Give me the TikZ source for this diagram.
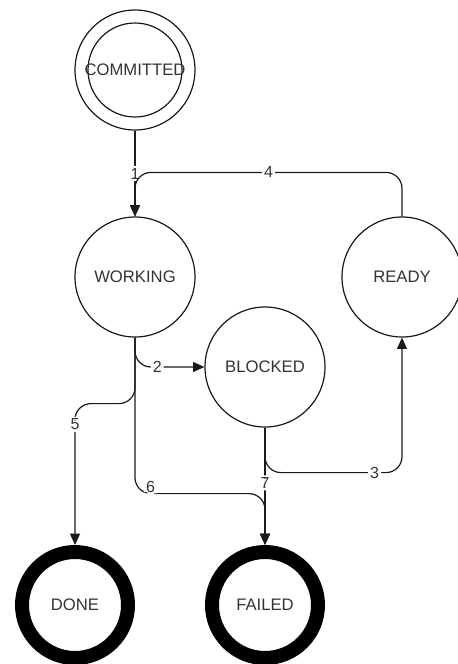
\documentclass[tikz,border=0pt]{standalone}
\usepackage{fontspec}
\setmainfont{Liberation Sans}
\usetikzlibrary{arrows.meta}
\definecolor{linegray}{HTML}{1A1A1A}
\definecolor{textgray}{HTML}{333333}

\begin{document}
\begin{tikzpicture}[x=0.75pt, y=-0.75pt,
    state/.style={circle, draw=linegray, line width=0.9pt, minimum size=90pt, inner sep=0pt,
      text=textgray, font=\fontsize{12.5}{15}\selectfont},
    final/.style={state, draw=black, line width=10.5pt, minimum size=79.5pt},
    edge/.style={draw=linegray, line width=0.9pt, rounded corners=12pt,
      -{Triangle[length=8.5pt, width=7.5pt]}},
    lbl/.style={fill=white, inner sep=1.5pt, text=textgray, font=\fontsize{12}{14}\selectfont}]
  \useasboundingbox (0,0) rectangle (457,664);
  % Zustaende
  \node[state] (committed) at (135,70) {};
  \draw[linegray, line width=0.9pt] (committed.center) circle[radius=35.25pt];
  \node[text=textgray, font=\fontsize{12.5}{15}\selectfont] (committedtxt) at (committed.center) {COMMITTED};
  \node[state] (working) at (135,277) {WORKING};
  \node[state] (ready) at (402,277) {READY};
  \node[state] (blocked) at (265,367) {BLOCKED};
  \node[final] (done) at (75,605) {DONE};
  \node[final] (failed) at (265,605) {FAILED};
  % Uebergaenge
  \draw[edge] (committed) -- node[lbl]{1} (working);
  \draw[edge] (working.south) |- node[lbl, pos=0.66]{2} (blocked.west);
  \draw[edge] (blocked.south) -- ++(0,45) -| node[lbl, pos=0.4]{3} (ready.south);
  \draw[edge] (ready.north) -- ++(0,-44) -| node[lbl, pos=0.25]{4} (working.north);
  \draw[edge] (working.south) -- ++(0,66) -| node[lbl, pos=0.574]{5} (done.north);
  \draw[edge] (working.south) -- ++(0,156) -| node[lbl, pos=0.06, yshift=5pt]{6} (failed.north);
  \draw[edge] (blocked.south) -- node[lbl, pos=0.47]{7} (failed.north);
\end{tikzpicture}
\end{document}
